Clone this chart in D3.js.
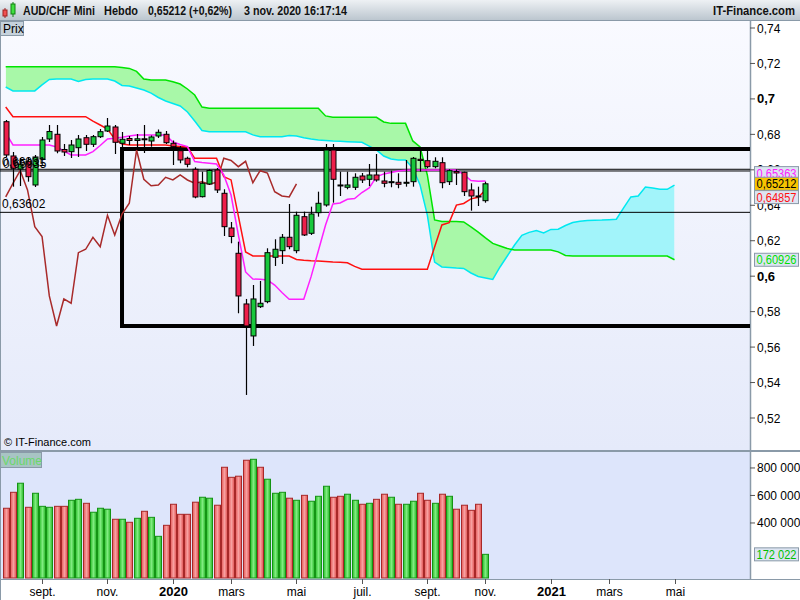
<!DOCTYPE html>
<html>
<head>
<meta charset="utf-8">
<script src="https://cdn.jsdelivr.net/npm/d3@7"></script>
<style>
body { margin: 0; background: #fff; }
text { font-family: Arial, "Liberation Sans", sans-serif; }
</style>
</head>
<body>
<script>
// weekly AUD/CHF candles, 29 juil. 2019 -> 2 nov. 2020
var open = [0.68715,0.66780,0.66047,0.66459,0.65145,0.66611,0.67739,0.68004,0.67147,0.67023,
    0.67248,0.67812,0.67440,0.67869,0.68190,0.68416,0.67497,0.67767,0.67655,0.67750,
    0.67626,0.67908,0.68004,0.67497,0.67079,0.66650,0.66030,0.64485,0.65201,0.65991,
    0.64676,0.62719,0.61292,0.58433,0.56628,0.58280,0.58563,0.61067,0.61439,0.62195,
    0.61439,0.63357,0.62420,0.63582,0.64017,0.67119,0.65145,0.65015,0.65015,0.65652,
    0.65466,0.65709,0.65370,0.65274,0.65297,0.65240,0.65331,0.66594,0.66515,0.66177,
    0.66402,0.65331,0.65906,0.65861,0.64863,0.64524,0.64259];
var high = [0.68811,0.67006,0.66667,0.66667,0.66837,0.67852,0.68529,0.68529,0.67457,0.67683,
    0.67965,0.67965,0.67965,0.68303,0.68924,0.68529,0.68134,0.67908,0.68021,0.68529,
    0.67937,0.68275,0.68190,0.67655,0.67344,0.66741,0.66143,0.65895,0.66030,0.66103,
    0.64902,0.63058,0.61947,0.58715,0.59504,0.59730,0.61574,0.62082,0.62381,0.64073,
    0.63639,0.63639,0.63921,0.64767,0.67457,0.67457,0.65895,0.65895,0.65804,0.65821,
    0.66329,0.66893,0.65895,0.65951,0.65804,0.66555,0.66724,0.67119,0.67079,0.66707,
    0.66707,0.66030,0.66030,0.65895,0.65240,0.65049,0.65331];
var low = [0.66724,0.65049,0.65088,0.65331,0.65032,0.66555,0.67570,0.66933,0.66780,0.66667,
    0.66724,0.67062,0.67288,0.67796,0.68134,0.66893,0.67232,0.67401,0.67119,0.66949,
    0.67305,0.67796,0.67457,0.66273,0.66369,0.66143,0.64394,0.64440,0.65145,0.64693,
    0.62268,0.61856,0.57908,0.53300,0.56064,0.58207,0.58472,0.60576,0.60689,0.61518,
    0.61292,0.62268,0.62325,0.63357,0.63921,0.64146,0.64524,0.64902,0.64863,0.65257,
    0.65088,0.65331,0.65015,0.65015,0.64959,0.65049,0.65049,0.65895,0.66087,0.66087,
    0.64959,0.65145,0.65145,0.64524,0.63695,0.63960,0.64146];
var close = [0.66837,0.66087,0.66312,0.65613,0.66724,0.67683,0.68162,0.67062,0.67006,0.67401,
    0.67739,0.67440,0.67869,0.68151,0.68472,0.67553,0.67722,0.67655,0.67750,0.67711,
    0.67852,0.68117,0.67530,0.67305,0.66555,0.66312,0.64468,0.65240,0.65962,0.64863,
    0.62793,0.62240,0.58884,0.57192,0.58715,0.58472,0.61326,0.61518,0.62195,0.61665,
    0.63436,0.62325,0.63509,0.64112,0.67119,0.65466,0.65099,0.65145,0.65579,0.65427,
    0.65709,0.65427,0.65240,0.65331,0.65184,0.65297,0.66650,0.66526,0.66177,0.66481,
    0.65274,0.65951,0.65821,0.64767,0.64524,0.64468,0.65212];
var volume = [507000,623000,689000,514000,616000,521000,514000,521000,521000,565000,
    572000,543000,478000,507000,500000,427000,427000,405000,434000,485000,
    441000,303000,383000,536000,463000,463000,551000,587000,580000,529000,
    805000,732000,740000,856000,863000,805000,718000,616000,623000,580000,
    565000,601000,558000,594000,667000,587000,594000,609000,565000,536000,
    543000,572000,609000,587000,536000,536000,558000,616000,565000,543000,
    609000,594000,500000,529000,492000,536000,172022];

// ichimoku lines
var tenkan = [0.6808,0.6740,0.6740,0.6740,0.6740,0.6740,0.6740,0.6729,0.6706,0.6684,
    0.6684,0.6684,0.6703,0.6737,0.6774,0.6778,0.6784,0.6791,0.6797,0.6797,
    0.6797,0.6797,0.6797,0.6757,0.6743,0.6731,0.6647,0.6641,0.6637,0.6633,
    0.6571,0.6458,0.6233,0.6024,0.5984,0.5982,0.5979,0.5950,0.5908,0.5870,
    0.5870,0.5870,0.5996,0.6142,0.6289,0.6407,0.6413,0.6434,0.6438,0.6472,
    0.6498,0.6560,0.6577,0.6585,0.6593,0.6598,0.6599,0.6599,0.6599,0.6599,
    0.6599,0.6599,0.6599,0.6574,0.6540,0.6535,0.65363];
var kijun = [0.6954,0.6900,0.6900,0.6900,0.6900,0.6900,0.6900,0.6900,0.6900,0.6900,
    0.6900,0.6900,0.6875,0.6853,0.6830,0.6774,0.6746,0.6740,0.6740,0.6740,
    0.6740,0.6740,0.6740,0.6735,0.6732,0.6729,0.6665,0.6665,0.6665,0.6665,
    0.6561,0.6543,0.6340,0.6137,0.6114,0.6114,0.6114,0.6114,0.6114,0.6114,
    0.6094,0.6090,0.6087,0.6085,0.6083,0.6080,0.6079,0.6076,0.6055,0.6039,
    0.6039,0.6039,0.6039,0.6039,0.6039,0.6039,0.6039,0.6039,0.6039,0.6165,
    0.6289,0.6302,0.6401,0.6410,0.6436,0.6445,0.64857];
var spanA = [0.7182,0.7182,0.7182,0.7182,0.7182,0.7182,0.7182,0.7182,0.7182,0.7182,
    0.7182,0.7182,0.7182,0.7182,0.7182,0.7182,0.7177,0.7172,0.7155,0.7112,
    0.7107,0.7107,0.7107,0.7097,0.7084,0.7056,0.7022,0.6954,0.6947,0.6947,
    0.6947,0.6947,0.6947,0.6947,0.6947,0.6947,0.6947,0.6947,0.6947,0.6947,
    0.6947,0.6947,0.6947,0.6947,0.6904,0.6896,0.6896,0.6896,0.6896,0.6896,
    0.6896,0.6896,0.6870,0.6862,0.6862,0.6862,0.6763,0.6729,0.6571,0.6317,
    0.6308,0.6308,0.6308,0.6306,0.6278,0.6249,0.6216,0.6185,0.6170,0.6156,
    0.6148,0.6148,0.6148,0.6148,0.6148,0.6148,0.6137,0.6117,0.6114,0.6114,
    0.6114,0.6114,0.6114,0.6114,0.6114,0.6114,0.6114,0.6114,0.6114,0.6114,
    0.6114,0.6114,0.60926];
var spanB = [0.7067,0.7045,0.7045,0.7045,0.7045,0.7079,0.7110,0.7112,0.7112,0.7112,
    0.7098,0.7110,0.7112,0.7112,0.7112,0.7101,0.7076,0.7073,0.7062,0.7050,
    0.7033,0.7008,0.6988,0.6974,0.6960,0.6926,0.6875,0.6822,0.6815,0.6815,
    0.6815,0.6815,0.6815,0.6815,0.6797,0.6787,0.6787,0.6787,0.6787,0.6794,
    0.6791,0.6781,0.6774,0.6768,0.6766,0.6763,0.6761,0.6759,0.6757,0.6755,
    0.6734,0.6712,0.6678,0.6661,0.6656,0.6656,0.6610,0.6514,0.6345,0.6080,
    0.6052,0.6049,0.6046,0.6044,0.6018,0.5998,0.5990,0.5982,0.6052,0.6114,
    0.6176,0.6230,0.6247,0.6257,0.6244,0.6264,0.6265,0.6286,0.6303,0.6310,
    0.6314,0.6316,0.6317,0.6319,0.6321,0.6385,0.6447,0.6452,0.6503,0.6498,
    0.6490,0.6490,0.6514];
var lag = 26;

// drawn levels
var hLines = [0.66031, 0.65935, 0.63602];
var boxTop = 0.6718, boxBottom = 0.5719, boxStart = 16;

// axes
var priceTicks = [0.52,0.54,0.56,0.58,0.6,0.62,0.64,0.66,0.68,0.7,0.72,0.74];
var volTicks = [400000, 600000, 800000];
var monthIdx = [5, 14, 23, 31, 40, 49, 58, 66, 75, 83, 92];
var monthLabels = ["sept.", "nov.", "2020", "mars", "mai", "juil.", "sept.", "nov.", "2021", "mars", "mai"];

var W = 800, H = 600, plotR = 750;

var svg = d3.select("body").append("svg")
    .attr("width", W).attr("height", H);

var defs = svg.append("defs");
function grad(id, x2, y2, stops) {
    var g = defs.append("linearGradient").attr("id", id)
        .attr("x1", "0%").attr("y1", "0%").attr("x2", x2).attr("y2", y2);
    stops.forEach(function (s) {
        g.append("stop").attr("offset", s[0]).attr("stop-color", s[1]);
    });
}
grad("hdr", "0%", "100%", [["0%", "#eef1f4"], ["100%", "#bcc6cf"]]);
grad("bg", "0%", "100%", [["0%", "#f9faff"], ["100%", "#e5eafa"]]);
grad("vred", "100%", "0%", [["0%", "#e45a5a"], ["50%", "#f8a0a0"], ["100%", "#e05050"]]);
grad("vgreen", "100%", "0%", [["0%", "#2cc02c"], ["50%", "#80ec80"], ["100%", "#28b828"]]);

defs.append("clipPath").attr("id", "clipMain")
    .append("rect").attr("x", 0).attr("y", 21).attr("width", plotR).attr("height", 429);

var x = d3.scaleLinear().domain([0, 92]).range([5.7, 674.5]);
var y = d3.scaleLinear().domain([0.52, 0.74]).range([418, 28]);
var yv = d3.scaleLinear().domain([0, 916000]).range([578, 452]);

// backgrounds
svg.append("rect").attr("width", W).attr("height", H).attr("fill", "#fff");
svg.append("rect").attr("x", 0).attr("y", 20).attr("width", plotR).attr("height", 430).attr("fill", "url(#bg)");
svg.append("rect").attr("x", 0).attr("y", 452).attr("width", plotR).attr("height", 127).attr("fill", "#dde5fb");
svg.append("rect").attr("x", 0).attr("y", 450).attr("width", W).attr("height", 2).attr("fill", "#8a9aa8");
svg.append("line").attr("x1", 0).attr("x2", W).attr("y1", 579.5).attr("y2", 579.5).attr("stroke", "#8a9aa8");
svg.append("line").attr("x1", plotR + 0.5).attr("x2", plotR + 0.5).attr("y1", 20).attr("y2", 580)
    .attr("stroke", "#8a9aa8").attr("stroke-width", 1.5);
svg.append("line").attr("x1", 0.5).attr("x2", 0.5).attr("y1", 20).attr("y2", 600).attr("stroke", "#8a9aa8");

var g = svg.append("g").attr("clip-path", "url(#clipMain)");

// cloud
var idx = d3.range(spanA.length);
var cloudArea = d3.area().x(function (i) { return x(i); })
    .y0(function (i) { return y(spanA[i]); })
    .y1(function (i) { return y(spanB[i]); });
var upClip = defs.append("clipPath").attr("id", "aboveB");
upClip.append("path").attr("d", d3.area().x(function (i) { return x(i); })
    .y0(function (i) { return y(spanB[i]); }).y1(0)(idx));
var dnClip = defs.append("clipPath").attr("id", "belowB");
dnClip.append("path").attr("d", d3.area().x(function (i) { return x(i); })
    .y0(function (i) { return y(spanB[i]); }).y1(H)(idx));

g.append("path").attr("d", cloudArea(idx)).attr("fill", "#a8f8a8").attr("clip-path", "url(#aboveB)");
g.append("path").attr("d", cloudArea(idx)).attr("fill", "#a2f4fa").attr("clip-path", "url(#belowB)");

function drawLine(data, color, w) {
    g.append("path")
        .attr("d", d3.line().x(function (d, i) { return x(i); }).y(function (d) { return y(d); })(data))
        .attr("fill", "none").attr("stroke", color).attr("stroke-width", w);
}
drawLine(spanB, "#00e8f0", 1.5);
drawLine(spanA, "#00e400", 1.5);

// levels
hLines.forEach(function (v) {
    g.append("line").attr("x1", 0).attr("x2", plotR).attr("y1", y(v)).attr("y2", y(v))
        .attr("stroke", "#000").attr("stroke-width", 1);
});
g.append("path")
    .attr("d", "M" + (plotR + 5) + "," + y(boxTop) + "H" + x(boxStart) + "V" + y(boxBottom) + "H" + (plotR + 5))
    .attr("fill", "none").attr("stroke", "#000").attr("stroke-width", 4);

// lagging span = close shifted back
var chikou = close.slice(lag);
drawLine(chikou, "#a82a2a", 1.5);
drawLine(kijun, "#ff1010", 1.5);
drawLine(tenkan, "#ff20ff", 1.5);

// candles
var candle = g.selectAll(".candle").data(close).enter().append("g").attr("class", "candle");
candle.append("line")
    .attr("x1", function (d, i) { return Math.round(x(i)) + 0.5; })
    .attr("x2", function (d, i) { return Math.round(x(i)) + 0.5; })
    .attr("y1", function (d, i) { return y(high[i]); })
    .attr("y2", function (d, i) { return y(low[i]); })
    .attr("stroke", "#000").attr("stroke-width", 1.2);
candle.append("rect")
    .attr("x", function (d, i) { return Math.round(x(i)) - 2; })
    .attr("y", function (d, i) { return y(Math.max(open[i], d)); })
    .attr("width", 5)
    .attr("height", function (d, i) { return Math.max(1, Math.abs(y(open[i]) - y(d))); })
    .attr("fill", function (d, i) { return d >= open[i] ? "#18c83c" : "#ee1e4a"; })
    .attr("stroke", "#000").attr("stroke-width", 1);

// volume
svg.selectAll(".vol").data(volume).enter().append("rect").attr("class", "vol")
    .attr("x", function (d, i) { return Math.round(x(i)) - 2.5; })
    .attr("y", function (d) { return yv(d); })
    .attr("width", 6)
    .attr("height", function (d) { return yv(0) - yv(d); })
    .attr("fill", function (d, i) { return i > 0 && close[i] >= close[i - 1] ? "url(#vgreen)" : "url(#vred)"; })
    .attr("stroke", function (d, i) { return i > 0 && close[i] >= close[i - 1] ? "#149414" : "#a82828"; })
    .attr("stroke-width", 1);

// price axis
function fmt(v) { return String(+v.toFixed(2)).replace(".", ","); }
function isTenth(d) { return Math.abs(d * 10 - Math.round(d * 10)) < 1e-6; }
var pt = svg.append("g").selectAll("g").data(priceTicks).enter().append("g")
    .attr("transform", function (d) { return "translate(" + plotR + "," + y(d) + ")"; });
pt.append("line").attr("x1", 0).attr("x2", 5).attr("stroke", "#555");
pt.append("text").attr("x", 7).attr("dy", 4.5)
    .attr("font-size", function (d) { return isTenth(d) ? 13 : 12; })
    .attr("font-weight", function (d) { return isTenth(d) ? "bold" : "normal"; })
    .text(fmt);

// volume axis
var vt = svg.append("g").selectAll("g").data(volTicks).enter().append("g")
    .attr("transform", function (d) { return "translate(" + plotR + "," + yv(d) + ")"; });
vt.append("line").attr("x1", 0).attr("x2", 5).attr("stroke", "#555");
vt.append("text").attr("x", 7).attr("dy", 4.5).attr("font-size", 12)
    .text(function (d) { return d3.format(",")(d).replace(/,/g, " "); });

// value boxes on the right
function tag(v, yy, color, bg) {
    svg.append("rect").attr("x", 754.5).attr("y", yy - 6.5).attr("width", 44).attr("height", 13)
        .attr("fill", bg).attr("stroke", "#8a9aa8");
    svg.append("text").attr("x", 756.5).attr("y", yy + 4.5).attr("font-size", 12)
        .attr("textLength", 40).attr("lengthAdjust", "spacingAndGlyphs")
        .attr("fill", color).text(v);
}
tag("0,65363", y(tenkan[66]) - 8, "#ff20ff", "#dde4f2");
tag("0,64857", y(kijun[66]) + 7, "#ff1010", "#dde4f2");
tag("0,65212", y(close[66]), "#000", "#f8c400");
tag("0,60926", y(spanA[92]), "#00e000", "#dde4f2");
tag("172 022", yv(172022), "#00c000", "#dde4f2");

// level labels
svg.append("text").attr("x", 2).attr("y", y(hLines[0]) - 3.5).attr("font-size", 12).text("0,66031");
svg.append("text").attr("x", 3).attr("y", y(hLines[1]) - 2.5).attr("font-size", 12).text("0,65935");
svg.append("text").attr("x", 2).attr("y", y(hLines[2]) - 4).attr("font-size", 12).text("0,63602");

// time axis
var ta = svg.append("g").selectAll("g").data(monthIdx).enter().append("g")
    .attr("transform", function (d) { return "translate(" + (Math.round(x(d)) + 0.5) + ",0)"; });
ta.append("line").attr("y1", 579).attr("y2", 584).attr("stroke", "#555");
ta.append("text").attr("y", 596).attr("text-anchor", "middle")
    .attr("font-size", function (d, i) { return /\d/.test(monthLabels[i]) ? 13 : 12; })
    .attr("font-weight", function (d, i) { return /\d/.test(monthLabels[i]) ? "bold" : "normal"; })
    .text(function (d, i) { return monthLabels[i]; });

// header
svg.append("rect").attr("width", W).attr("height", 20).attr("fill", "url(#hdr)");
svg.append("line").attr("x1", 0).attr("x2", W).attr("y1", 20.5).attr("y2", 20.5).attr("stroke", "#8a9aa8");
svg.append("line").attr("x1", 5).attr("x2", 5).attr("y1", 8).attr("y2", 18).attr("stroke", "#a02020");
svg.append("rect").attr("x", 3).attr("y", 10).attr("width", 4).attr("height", 6).attr("fill", "#f05050").attr("stroke", "#a02020");
svg.append("line").attr("x1", 13).attr("x2", 13).attr("y1", 2).attr("y2", 17).attr("stroke", "#108010");
svg.append("rect").attr("x", 11).attr("y", 4).attr("width", 4).attr("height", 10).attr("fill", "#40e040").attr("stroke", "#108010");
var hdr = [["AUD/CHF Mini", 23, 72], ["Hebdo", 104, 34], ["0,65212 (+0,62%)", 148, 84],
    ["3 nov. 2020 16:17:14", 244, 103], ["IT-Finance.com", 713, 82]];
hdr.forEach(function (h) {
    svg.append("text").attr("x", h[1]).attr("y", 15).attr("font-size", 12).attr("font-weight", "bold")
        .attr("textLength", h[2]).attr("lengthAdjust", "spacingAndGlyphs")
        .attr("fill", "#111").text(h[0]);
});

// panel labels
svg.append("rect").attr("x", 0.5).attr("y", 21.5).attr("width", 23).attr("height", 14)
    .attr("fill", "#c6d2dc").attr("stroke", "#8a9aa8");
svg.append("text").attr("x", 3).attr("y", 33).attr("font-size", 12).text("Prix");
svg.append("rect").attr("x", 0.5).attr("y", 452.5).attr("width", 41).attr("height", 15)
    .attr("fill", "#a8c4c4").attr("stroke", "#8a9aa8");
svg.append("text").attr("x", 2).attr("y", 464.5).attr("font-size", 12).attr("fill", "#6ad86a").text("Volume");
svg.append("text").attr("x", 4).attr("y", 446).attr("font-size", 11).text("© IT-Finance.com");
</script>
</body>
</html>
